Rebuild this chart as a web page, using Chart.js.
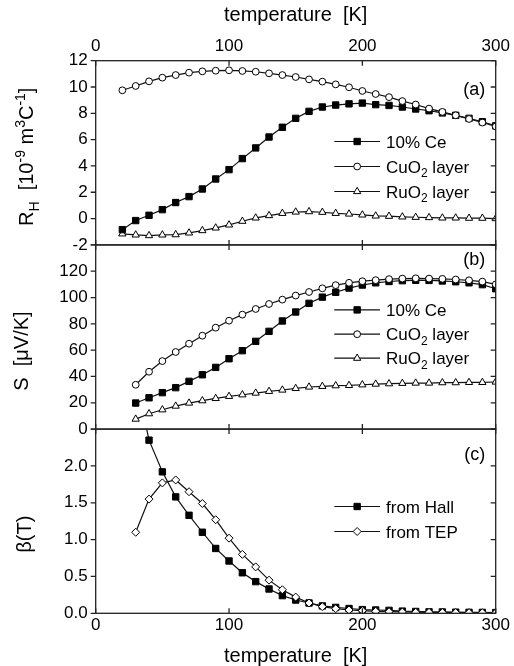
<!DOCTYPE html>
<html><head><meta charset="utf-8">
<script src="https://cdn.jsdelivr.net/npm/chart.js@4.4.1/dist/chart.umd.min.js"></script>
<style>html,body{margin:0;padding:0;background:#fff;}#wrap{width:514px;height:666px;position:relative;}</style>
</head><body><div id="wrap"><canvas id="c"></canvas></div>
<script>
// ---------- data ----------
const tempA = [20,30,40,50,60,70,80,90,100,110,120,130,140,150,160,170,180,190,200,210,220,230,240,250,260,270,280,290,300];
const rhCe   = [-0.84,-0.15,0.25,0.68,1.22,1.67,2.25,3.01,3.72,4.56,5.37,6.2,6.94,7.62,8.15,8.48,8.63,8.72,8.78,8.66,8.6,8.48,8.33,8.2,8.03,7.85,7.62,7.36,7.05];
const rhCuO2 = [9.75,10.08,10.43,10.71,10.91,11.09,11.19,11.24,11.27,11.22,11.16,11.04,10.91,10.76,10.58,10.41,10.2,9.98,9.7,9.47,9.23,8.93,8.67,8.36,8.11,7.85,7.57,7.3,7.0];
const rhRuO2 = [-1.16,-1.24,-1.29,-1.24,-1.22,-1.09,-0.91,-0.71,-0.48,-0.2,0.05,0.23,0.4,0.5,0.53,0.48,0.4,0.35,0.28,0.2,0.18,0.13,0.1,0.08,0.05,0.05,0.03,0.03,0.0];

const tempB = [30,40,50,60,70,80,90,100,110,120,130,140,150,160,170,180,190,200,210,220,230,240,250,260,270,280,290,300];
const sCe   = [19.8,23.8,27.7,31.5,36.3,41.3,46.9,53.5,59.6,66.7,74.3,82.2,89,95.6,100.3,104,107.2,109.5,111.2,112.2,112.8,113.1,113,112.6,112,111.2,109.8,106.7];
const sCuO2 = [33.7,43.6,51.7,58.6,64.9,71,77.1,82.4,87,91.3,95.1,98.4,101.5,104.2,107,109.4,111.2,112.4,113.2,114,114.4,114.6,114.4,114.2,113.7,113.1,112.1,110];
const sRuO2 = [7.6,11.7,14.7,17.5,19.8,21.6,23.3,24.9,26.1,27.4,28.7,29.7,30.9,32,32.5,33,33.2,33.7,34.2,34.5,34.8,35,35,35.3,35.3,35.5,35.5,35.8];

const tempC = [30,40,50,60,70,80,90,100,110,120,130,140,150,160,170,180,190,200,210,220,230,240,250,260,270,280,290,300];
const betaHall = [3.2,2.35,1.92,1.58,1.33,1.10,0.88,0.71,0.55,0.43,0.33,0.24,0.18,0.14,0.10,0.08,0.065,0.05,0.045,0.04,0.03,0.025,0.02,0.018,0.015,0.013,0.012,0.01];
const betaTEP  = [1.10,1.55,1.77,1.81,1.65,1.49,1.27,1.02,0.80,0.63,0.45,0.32,0.22,0.14,0.09,0.063,0.045,0.036,0.027,0.022,0.018,0.014,0.013,0.011,0.01,0.009,0.008,0.007];

const xTicks = [0,100,200,300];
const ticksA = [-2,0,2,4,6,8,10,12];
const ticksB = [0,20,40,60,80,100,120,140];
const ticksC = [0,0.5,1.0,1.5,2.0,2.5];
const hiddenB = [140];
const hiddenC = [2.5];

const legendA = [ [['10% Ce',0]], [['CuO',0],['2',1],[' layer',0]], [['RuO',0],['2',1],[' layer',0]] ];
const legendB = legendA;
const legendC = [ [['from Hall',0]], [['from TEP',0]] ];

// ---------- helpers ----------
const FAMILY = '"Liberation Sans", Arial, Helvetica, sans-serif';
Chart.defaults.font.family = FAMILY;
Chart.defaults.color = '#000';

const zip = (xs, ys) => xs.map((x, i) => ({x: x, y: ys[i]}));

function drawRich(ctx, segs, x, y, align, size) {
  const small = Math.round(size * 0.68);
  let w = 0;
  const ws = segs.map(([t, k]) => { ctx.font = (k ? small : size) + 'px ' + FAMILY; const m = ctx.measureText(t).width; w += m; return m; });
  let cx = align === 'center' ? x - w / 2 : (align === 'right' ? x - w : x);
  segs.forEach(([t, k], i) => {
    ctx.font = (k ? small : size) + 'px ' + FAMILY;
    const dy = k === 1 ? size * 0.28 : (k === 2 ? -size * 0.42 : 0);
    ctx.textAlign = 'left';
    ctx.textBaseline = 'alphabetic';
    ctx.fillText(t, cx, y + dy);
    cx += ws[i];
  });
}

const mk = (label, xs, ys, yAxisID, style, filled, radius) => ({
  label: label, data: zip(xs, ys), yAxisID: yAxisID, xAxisID: 'x',
  borderColor: '#111', borderWidth: 1.2, tension: 0,
  pointStyle: style, pointRadius: radius, pointBorderWidth: 1,
  pointBorderColor: '#000', pointBackgroundColor: filled ? '#000' : '#fff',
  fill: false
});

const datasets = [
  mk('CuO2 layer', tempA, rhCuO2, 'yA', 'circle', false, 3.4),
  mk('10% Ce', tempA, rhCe, 'yA', 'rect', true, 4.5),
  mk('RuO2 layer', tempA, rhRuO2, 'yA', 'triangle', false, 4.2),
  mk('CuO2 layer', tempB, sCuO2, 'yB', 'circle', false, 3.4),
  mk('10% Ce', tempB, sCe, 'yB', 'rect', true, 4.5),
  mk('RuO2 layer', tempB, sRuO2, 'yB', 'triangle', false, 4.2),
  mk('from TEP', tempC, betaTEP, 'yC', 'rectRot', false, 4.0),
  mk('from Hall', tempC, betaHall, 'yC', 'rect', true, 4.5)
];

const legendStyles = {
  yA: [['rect', true, 4.5], ['circle', false, 3.4], ['triangle', false, 4.2]],
  yB: [['rect', true, 4.5], ['circle', false, 3.4], ['triangle', false, 4.2]],
  yC: [['rect', true, 4.5], ['rectRot', false, 4.0]]
};

function drawMarker(ctx, style, filled, r, x, y) {
  ctx.save();
  ctx.fillStyle = filled ? '#000' : '#fff';
  ctx.strokeStyle = '#000';
  ctx.lineWidth = 1;
  if (Chart.helpers && Chart.helpers.drawPoint) {
    Chart.helpers.drawPoint(ctx, {pointStyle: style, radius: r, rotation: 0, borderWidth: 1}, x, y);
  } else {
    ctx.beginPath();
    ctx.arc(x, y, r, 0, Math.PI * 2);
    ctx.fill(); ctx.stroke();
  }
  ctx.restore();
}

// clip each dataset to its own panel
const panelClip = {
  id: 'panelClip',
  beforeDatasetDraw(chart, args) {
    const ds = chart.data.datasets[args.index];
    const ys = chart.scales[ds.yAxisID];
    const ca = chart.chartArea;
    const ctx = chart.ctx;
    ctx.save();
    ctx.beginPath();
    ctx.rect(ca.left, ys.top, ca.right - ca.left, ys.bottom - ys.top);
    ctx.clip();
  },
  afterDatasetDraw(chart) { chart.ctx.restore(); }
};

const decor = {
  id: 'decor',
  afterDraw(chart) {
    const ctx = chart.ctx, ca = chart.chartArea, xs = chart.scales.x;
    ctx.save();
    ctx.strokeStyle = '#222';
    ctx.lineWidth = 1.3;
    const TL = 5;
    for (const id of ['yA', 'yB', 'yC']) {
      const ys = chart.scales[id];
      ctx.strokeRect(ca.left, ys.top, ca.right - ca.left, ys.bottom - ys.top);
      ctx.beginPath();
      for (const v of xTicks) {
        const px = xs.getPixelForValue(v);
        ctx.moveTo(px, ys.top); ctx.lineTo(px, ys.top + TL);
        ctx.moveTo(px, ys.bottom); ctx.lineTo(px, ys.bottom - TL);
      }
      for (const t of ys.ticks) {
        const py = ys.getPixelForValue(t.value);
        ctx.moveTo(ca.left, py); ctx.lineTo(ca.left - TL, py);
        ctx.moveTo(ca.right, py); ctx.lineTo(ca.right - TL, py);
      }
      ctx.stroke();
    }
    ctx.restore();

    // x titles
    ctx.save();
    ctx.fillStyle = '#000';
    const cx = (ca.left + ca.right) / 2;
    drawRich(ctx, [['temperature  [K]', 0]], cx, 20.5, 'center', 20);
    drawRich(ctx, [['temperature  [K]', 0]], cx, 661.5, 'center', 20);

    // y titles (rotated)
    const yt = [
      {id: 'yA', bx: 33, dy: 4, segs: [['R',0],['H',1],['  [10',0],['-9',2],[' m',0],['3',2],['C',0],['-1',2],[']',0]]},
      {id: 'yB', bx: 27.5, dy: 14, segs: [['S  [\u03BCV/K]',0]]},
      {id: 'yC', bx: 31, dy: 13, segs: [['\u03B2(T)',0]]}
    ];
    for (const t of yt) {
      const ys = chart.scales[t.id];
      const cy = (ys.top + ys.bottom) / 2 + t.dy;
      ctx.save();
      ctx.translate(t.bx, cy);
      ctx.rotate(-Math.PI / 2);
      drawRich(ctx, t.segs, 0, 0, 'center', 20);
      ctx.restore();
    }

    // panel letters
    const letters = [['yA', '(a)', 29.3], ['yB', '(b)', 15.7], ['yC', '(c)', 26.4]];
    for (const [id, txt, off] of letters) {
      const ys = chart.scales[id];
      drawRich(ctx, [[txt, 0]], ca.right - 10.5, ys.top + off + 4.7, 'right', 18);
    }

    // legends
    const leg = [
      ['yA', legendA, [80.8, 105.8, 130.8]],
      ['yB', legendB, [65, 89.3, 113.3]],
      ['yC', legendC, [77.4, 102.4]]
    ];
    for (const [id, items, offs] of leg) {
      const ys = chart.scales[id];
      items.forEach((segs, i) => {
        const y = ys.top + offs[i];
        const x0 = ca.left + 238.6, x1 = ca.left + 284.3, xm = (x0 + x1) / 2;
        ctx.save();
        ctx.strokeStyle = '#111'; ctx.lineWidth = 1.2;
        ctx.beginPath(); ctx.moveTo(x0, y); ctx.lineTo(x1, y); ctx.stroke();
        ctx.restore();
        const st = legendStyles[id][i];
        drawMarker(ctx, st[0], st[1], st[2], xm, y);
        ctx.fillStyle = '#000';
        drawRich(ctx, segs, ca.left + 290.3, y + 6.1, 'left', 17);
      });
    }
    ctx.restore();
  }
};

const tickFont = {size: 17, family: FAMILY};
const yBase = (ticksArr, hidden, fmt) => ({
  type: 'linear', position: 'left', stack: 'panels', stackWeight: 1,
  min: ticksArr[0], max: ticksArr[ticksArr.length - 1],
  grid: {display: false, drawTicks: false},
  border: {display: false},
  afterBuildTicks: s => { s.ticks = ticksArr.map(v => ({value: v})); },
  afterFit: s => { s.width = 95.7; },
  ticks: {
    font: tickFont, color: '#000', padding: 8, autoSkip: false,
    callback: v => hidden.includes(v) ? '' : fmt(v)
  }
});

new Chart(document.getElementById('c'), {
  type: 'line',
  data: {datasets: datasets},
  options: {
    responsive: true, maintainAspectRatio: false, animation: false, events: [],
    layout: {padding: {left: 0, right: 18.3, top: 0, bottom: 0}},
    plugins: {legend: {display: false}, tooltip: {enabled: false}},
    scales: {
      x: {
        type: 'linear', position: 'bottom', min: 0, max: 300,
        grid: {display: false, drawTicks: false}, border: {display: false},
        afterBuildTicks: s => { s.ticks = xTicks.map(v => ({value: v})); },
        afterFit: s => { s.height = 52.7; },
        ticks: {font: tickFont, color: '#000', padding: 2, maxRotation: 0, autoSkip: false}
      },
      x2: {
        type: 'linear', position: 'top', min: 0, max: 300,
        grid: {display: false, drawTicks: false}, border: {display: false},
        afterBuildTicks: s => { s.ticks = xTicks.map(v => ({value: v})); },
        afterFit: s => { s.height = 60.7; },
        ticks: {font: tickFont, color: '#000', padding: 4, maxRotation: 0, autoSkip: false}
      },
      yC: yBase(ticksC, hiddenC, v => v.toFixed(1)),
      yB: yBase(ticksB, hiddenB, v => String(v)),
      yA: yBase(ticksA, [], v => String(v))
    }
  },
  plugins: [panelClip, decor]
});
</script>
</body></html>
